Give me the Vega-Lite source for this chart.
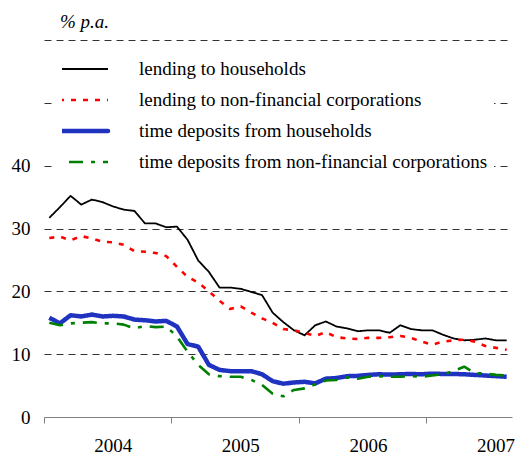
{
  "$schema": "https://vega.github.io/schema/vega-lite/v6.json",
  "autosize": {"type": "none"},
  "padding": {"left": 44, "top": 40, "right": 3, "bottom": 38},
  "width": 468,
  "height": 377,
  "background": "white",
  "title": {"text": "% p.a.", "anchor": "start", "frame": "group", "dx": 16, "offset": 8, "font": "Liberation Serif", "fontSize": 19, "fontStyle": "italic", "fontWeight": "normal", "color": "black"},
  "config": {
    "view": {"stroke": null},
    "axis": {"labelFont": "Liberation Serif", "labelFontSize": 19, "labelColor": "black", "titleFont": "Liberation Serif"},
    "legend": {"labelFont": "Liberation Serif", "labelFontSize": 19, "labelColor": "black"}
  },
  "data": {"values": [
    {"month": "2004-01", "lending to households": 31.7, "lending to non-financial corporations": 28.5, "time deposits from households": 15.8, "time deposits from non-financial corporations": 15.0},
    {"month": "2004-02", "lending to households": 33.4, "lending to non-financial corporations": 28.7, "time deposits from households": 14.9, "time deposits from non-financial corporations": 14.6},
    {"month": "2004-03", "lending to households": 35.2, "lending to non-financial corporations": 28.1, "time deposits from households": 16.2, "time deposits from non-financial corporations": 14.9},
    {"month": "2004-04", "lending to households": 33.8, "lending to non-financial corporations": 28.8, "time deposits from households": 16.0, "time deposits from non-financial corporations": 15.0},
    {"month": "2004-05", "lending to households": 34.6, "lending to non-financial corporations": 28.4, "time deposits from households": 16.3, "time deposits from non-financial corporations": 15.1},
    {"month": "2004-06", "lending to households": 34.2, "lending to non-financial corporations": 27.9, "time deposits from households": 16.0, "time deposits from non-financial corporations": 14.9},
    {"month": "2004-07", "lending to households": 33.5, "lending to non-financial corporations": 27.8, "time deposits from households": 16.1, "time deposits from non-financial corporations": 14.9},
    {"month": "2004-08", "lending to households": 33.0, "lending to non-financial corporations": 27.4, "time deposits from households": 16.0, "time deposits from non-financial corporations": 14.7},
    {"month": "2004-09", "lending to households": 32.8, "lending to non-financial corporations": 26.4, "time deposits from households": 15.5, "time deposits from non-financial corporations": 14.1},
    {"month": "2004-10", "lending to households": 30.8, "lending to non-financial corporations": 26.3, "time deposits from households": 15.4, "time deposits from non-financial corporations": 14.5},
    {"month": "2004-11", "lending to households": 30.8, "lending to non-financial corporations": 26.1, "time deposits from households": 15.2, "time deposits from non-financial corporations": 14.3},
    {"month": "2004-12", "lending to households": 30.2, "lending to non-financial corporations": 25.6, "time deposits from households": 15.3, "time deposits from non-financial corporations": 14.4},
    {"month": "2005-01", "lending to households": 30.3, "lending to non-financial corporations": 23.9, "time deposits from households": 14.4, "time deposits from non-financial corporations": 12.8},
    {"month": "2005-02", "lending to households": 28.2, "lending to non-financial corporations": 22.3, "time deposits from households": 11.6, "time deposits from non-financial corporations": 10.4},
    {"month": "2005-03", "lending to households": 24.9, "lending to non-financial corporations": 21.4, "time deposits from households": 11.2, "time deposits from non-financial corporations": 8.3},
    {"month": "2005-04", "lending to households": 23.1, "lending to non-financial corporations": 20.0, "time deposits from households": 8.3, "time deposits from non-financial corporations": 6.8},
    {"month": "2005-05", "lending to households": 20.6, "lending to non-financial corporations": 18.5, "time deposits from households": 7.5, "time deposits from non-financial corporations": 6.5},
    {"month": "2005-06", "lending to households": 20.6, "lending to non-financial corporations": 17.2, "time deposits from households": 7.3, "time deposits from non-financial corporations": 6.4},
    {"month": "2005-07", "lending to households": 20.4, "lending to non-financial corporations": 17.6, "time deposits from households": 7.3, "time deposits from non-financial corporations": 6.4},
    {"month": "2005-08", "lending to households": 19.9, "lending to non-financial corporations": 16.6, "time deposits from households": 7.3, "time deposits from non-financial corporations": 5.9},
    {"month": "2005-09", "lending to households": 19.4, "lending to non-financial corporations": 15.7, "time deposits from households": 6.8, "time deposits from non-financial corporations": 5.1},
    {"month": "2005-10", "lending to households": 16.6, "lending to non-financial corporations": 15.0, "time deposits from households": 5.7, "time deposits from non-financial corporations": 3.7},
    {"month": "2005-11", "lending to households": 15.1, "lending to non-financial corporations": 14.0, "time deposits from households": 5.3, "time deposits from non-financial corporations": 3.3},
    {"month": "2005-12", "lending to households": 13.8, "lending to non-financial corporations": 13.8, "time deposits from households": 5.5, "time deposits from non-financial corporations": 4.3},
    {"month": "2006-01", "lending to households": 13.0, "lending to non-financial corporations": 13.4, "time deposits from households": 5.6, "time deposits from non-financial corporations": 4.55},
    {"month": "2006-02", "lending to households": 14.6, "lending to non-financial corporations": 12.9, "time deposits from households": 5.35, "time deposits from non-financial corporations": 5.2},
    {"month": "2006-03", "lending to households": 15.2, "lending to non-financial corporations": 13.5, "time deposits from households": 6.1, "time deposits from non-financial corporations": 5.8},
    {"month": "2006-04", "lending to households": 14.4, "lending to non-financial corporations": 12.7, "time deposits from households": 6.2, "time deposits from non-financial corporations": 5.9},
    {"month": "2006-05", "lending to households": 14.1, "lending to non-financial corporations": 12.5, "time deposits from households": 6.5, "time deposits from non-financial corporations": 6.3},
    {"month": "2006-06", "lending to households": 13.65, "lending to non-financial corporations": 12.4, "time deposits from households": 6.55, "time deposits from non-financial corporations": 6.1},
    {"month": "2006-07", "lending to households": 13.8, "lending to non-financial corporations": 12.6, "time deposits from households": 6.7, "time deposits from non-financial corporations": 6.4},
    {"month": "2006-08", "lending to households": 13.8, "lending to non-financial corporations": 12.6, "time deposits from households": 6.8, "time deposits from non-financial corporations": 6.5},
    {"month": "2006-09", "lending to households": 13.4, "lending to non-financial corporations": 12.7, "time deposits from households": 6.75, "time deposits from non-financial corporations": 6.4},
    {"month": "2006-10", "lending to households": 14.6, "lending to non-financial corporations": 12.9, "time deposits from households": 6.8, "time deposits from non-financial corporations": 6.4},
    {"month": "2006-11", "lending to households": 14.0, "lending to non-financial corporations": 12.6, "time deposits from households": 6.85, "time deposits from non-financial corporations": 6.5},
    {"month": "2006-12", "lending to households": 13.8, "lending to non-financial corporations": 12.0, "time deposits from households": 6.8, "time deposits from non-financial corporations": 6.4},
    {"month": "2007-01", "lending to households": 13.8, "lending to non-financial corporations": 11.5, "time deposits from households": 6.9, "time deposits from non-financial corporations": 6.6},
    {"month": "2007-02", "lending to households": 13.1, "lending to non-financial corporations": 12.0, "time deposits from households": 6.85, "time deposits from non-financial corporations": 6.8},
    {"month": "2007-03", "lending to households": 12.5, "lending to non-financial corporations": 12.2, "time deposits from households": 6.85, "time deposits from non-financial corporations": 7.3},
    {"month": "2007-04", "lending to households": 12.2, "lending to non-financial corporations": 12.3, "time deposits from households": 6.8, "time deposits from non-financial corporations": 8.0},
    {"month": "2007-05", "lending to households": 12.3, "lending to non-financial corporations": 12.0, "time deposits from households": 6.7, "time deposits from non-financial corporations": 7.0},
    {"month": "2007-06", "lending to households": 12.5, "lending to non-financial corporations": 11.3, "time deposits from households": 6.6, "time deposits from non-financial corporations": 6.9},
    {"month": "2007-07", "lending to households": 12.2, "lending to non-financial corporations": 11.0, "time deposits from households": 6.5, "time deposits from non-financial corporations": 6.7},
    {"month": "2007-08", "lending to households": 12.2, "lending to non-financial corporations": 10.7, "time deposits from households": 6.4, "time deposits from non-financial corporations": 6.6}
  ]},
  "transform": [
    {"fold": ["lending to households", "lending to non-financial corporations", "time deposits from households", "time deposits from non-financial corporations"], "as": ["series", "value"]}
  ],
  "mark": {"type": "line", "strokeCap": "butt", "strokeJoin": "round"},
  "encoding": {
    "x": {
      "field": "month", "type": "ordinal", "bandPosition": 0.5,
      "scale": {"type": "band", "paddingInner": 0, "paddingOuter": 0},
      "axis": {
        "title": null,
        "values": ["2004-01", "2004-07", "2005-01", "2005-07", "2006-01", "2006-07", "2007-01", "2007-07"],
        "bandPosition": 0,
        "labelExpr": "slice(datum.value, 5) == '07' ? slice(datum.value, 0, 4) : ''",
        "labelAngle": 0,
        "labelAlign": "center",
        "labelBaseline": "alphabetic",
        "labelOffset": 0,
        "labelPadding": 28,
        "labelOverlap": false,
        "labelBound": false,
        "ticks": true,
        "tickSize": 6,
        "tickColor": "#808080",
        "tickOpacity": {"condition": {"test": "slice(datum.value, 5) == '01'", "value": 1}, "value": 0},
        "domainColor": "#808080",
        "domainWidth": 1,
        "grid": false
      }
    },
    "y": {
      "field": "value", "type": "quantitative",
      "scale": {"domain": [0, 60], "nice": false, "zero": true},
      "axis": {
        "title": null,
        "values": [0, 10, 20, 30, 40, 50, 60],
        "labelExpr": "datum.value <= 40 ? datum.label : ''",
        "domain": false,
        "ticks": false,
        "tickSize": 0,
        "labelPadding": 14,
        "grid": true,
        "gridColor": "#333333",
        "gridDash": [7, 5],
        "gridWidth": 1,
        "gridOpacity": {"condition": {"test": "datum.value == 0", "value": 0}, "value": 1}
      }
    },
    "color": {
      "field": "series", "type": "nominal",
      "scale": {"domain": ["lending to households", "lending to non-financial corporations", "time deposits from households", "time deposits from non-financial corporations"], "range": ["#000000", "#ff0000", "#1f33c0", "#008000"]},
      "legend": {
        "title": null, "orient": "none", "legendX": 12, "legendY": 13.5,
        "fillColor": "white", "padding": 6, "symbolType": "stroke", "symbolSize": 5329,
        "clipHeight": 19, "labelOffset": 58, "rowPadding": 11, "labelLimit": 500,
        "encode": {"symbols": {"update": {
          "strokeWidth": {"signal": "datum.value === 'time deposits from households' ? 4.5 : datum.value === 'lending to households' ? 1.8 : 2.6"},
          "strokeCap": {"signal": "datum.value === 'time deposits from households' ? 'round' : 'butt'"}
        }}}
      }
    },
    "strokeDash": {
      "field": "series", "type": "nominal",
      "scale": {"domain": ["lending to households", "lending to non-financial corporations", "time deposits from households", "time deposits from non-financial corporations"], "range": [[1, 0], [5, 7], [1, 0], [14, 8, 4, 8]]},
      "legend": {
        "title": null, "orient": "none", "legendX": 12, "legendY": 13.5,
        "fillColor": "white", "padding": 6, "symbolType": "stroke", "symbolSize": 5329,
        "clipHeight": 19, "labelOffset": 58, "rowPadding": 11, "labelLimit": 500,
        "encode": {"symbols": {"update": {
          "strokeWidth": {"signal": "datum.value === 'time deposits from households' ? 4.5 : datum.value === 'lending to households' ? 1.8 : 2.6"},
          "strokeCap": {"signal": "datum.value === 'time deposits from households' ? 'round' : 'butt'"}
        }}}
      }
    },
    "strokeWidth": {
      "condition": [
        {"test": "datum.series === 'time deposits from households'", "value": 4.5},
        {"test": "datum.series === 'lending to households'", "value": 1.8}
      ],
      "value": 2.6
    }
  }
}
